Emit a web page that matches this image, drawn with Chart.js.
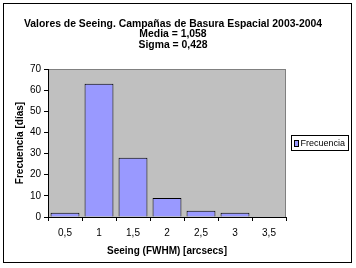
<!DOCTYPE html>
<html>
<head>
<meta charset="utf-8">
<script src="https://cdn.jsdelivr.net/npm/chart.js@4"></script>
<style>
  body { margin: 0; background: #fff; }
</style>
</head>
<body>
<canvas id="chart" width="356" height="268"></canvas>
<script>
// histogram of seeing values
const seeingLabels = ['0,5', '1', '1,5', '2', '2,5', '3', '3,5'];
const frecuencia = [2, 63, 28, 9, 3, 2, 0];
const titleLines = ['Valores de Seeing. Campañas de Basura Espacial 2003-2004', 'Media = 1,058', 'Sigma = 0,428'];
const seriesName = 'Frecuencia';

const FONT = '"Liberation Sans", Arial, sans-serif';

// grey plot area, outer frame, title and boxed legend (Excel look)
const frame = {
    id: 'frame',
    beforeDraw(chart) {
        const { ctx, chartArea: a } = chart;
        ctx.save();
        ctx.fillStyle = '#c0c0c0';
        ctx.fillRect(a.left, a.top, a.right - a.left, a.bottom - a.top);
        ctx.strokeStyle = '#808080';
        ctx.lineWidth = 1;
        ctx.beginPath();
        ctx.moveTo(a.left, a.top + 0.5);
        ctx.lineTo(a.right, a.top + 0.5);
        ctx.moveTo(a.right - 0.5, a.top);
        ctx.lineTo(a.right - 0.5, a.bottom);
        ctx.stroke();
        ctx.strokeStyle = '#000';
        ctx.strokeRect(3.5, 3.5, 348, 259);
        ctx.restore();
    },
    afterDraw(chart) {
        const ctx = chart.ctx;
        ctx.save();
        ctx.fillStyle = '#000';
        ctx.textAlign = 'center';
        ctx.textBaseline = 'middle';
        ctx.font = 'bold 10.4px ' + FONT;
        titleLines.forEach((t, i) => ctx.fillText(t, 173, 24 + i * 10.5));
        // legend
        ctx.fillStyle = '#fff';
        ctx.fillRect(291, 135, 57, 15);
        ctx.strokeStyle = '#000';
        ctx.strokeRect(291.5, 135.5, 57, 15);
        ctx.fillStyle = '#9999ff';
        ctx.fillRect(294.5, 140.5, 4, 6);
        ctx.strokeRect(294.5, 140.5, 4, 6);
        ctx.fillStyle = '#000';
        ctx.textAlign = 'left';
        ctx.font = '9px ' + FONT;
        ctx.fillText(seriesName, 300.5, 143.5);
        ctx.restore();
    }
};

new Chart(document.getElementById('chart'), {
    type: 'bar',
    data: {
        labels: seeingLabels,
        datasets: [{
            label: seriesName,
            data: frecuencia,
            backgroundColor: '#9999ff',
            borderColor: '#000',
            borderWidth: 1,
            barPercentage: 0.85,
            categoryPercentage: 1,
        }],
    },
    options: {
        animation: false,
        responsive: false,
        layout: { padding: { left: 10, right: 70, top: 69, bottom: 7 } },
        plugins: {
            legend: { display: false },
            tooltip: { enabled: false },
        },
        scales: {
            x: {
                grid: { offset: true, drawOnChartArea: false, color: '#000', tickLength: 4 },
                border: { color: '#000' },
                ticks: { color: '#000', font: { family: FONT, size: 10 }, padding: 6, maxRotation: 0 },
                title: {
                    display: true,
                    text: 'Seeing (FWHM) [arcsecs]',
                    color: '#000',
                    font: { family: FONT, size: 10, weight: 'bold' },
                    padding: { top: 0 },
                },
                afterFit: (s) => { s.height = 44; },
            },
            y: {
                min: 0,
                max: 70,
                grid: { drawOnChartArea: false, color: '#000', tickLength: 4 },
                border: { color: '#000' },
                ticks: { stepSize: 10, color: '#000', font: { family: FONT, size: 10 }, padding: 3 },
                title: {
                    display: true,
                    text: 'Frecuencia [días]',
                    color: '#000',
                    font: { family: FONT, size: 10, weight: 'bold' },
                    padding: { bottom: 2 },
                },
                afterFit: (s) => { s.width = 38; },
            },
        },
    },
    plugins: [frame],
});
</script>
</body>
</html>
